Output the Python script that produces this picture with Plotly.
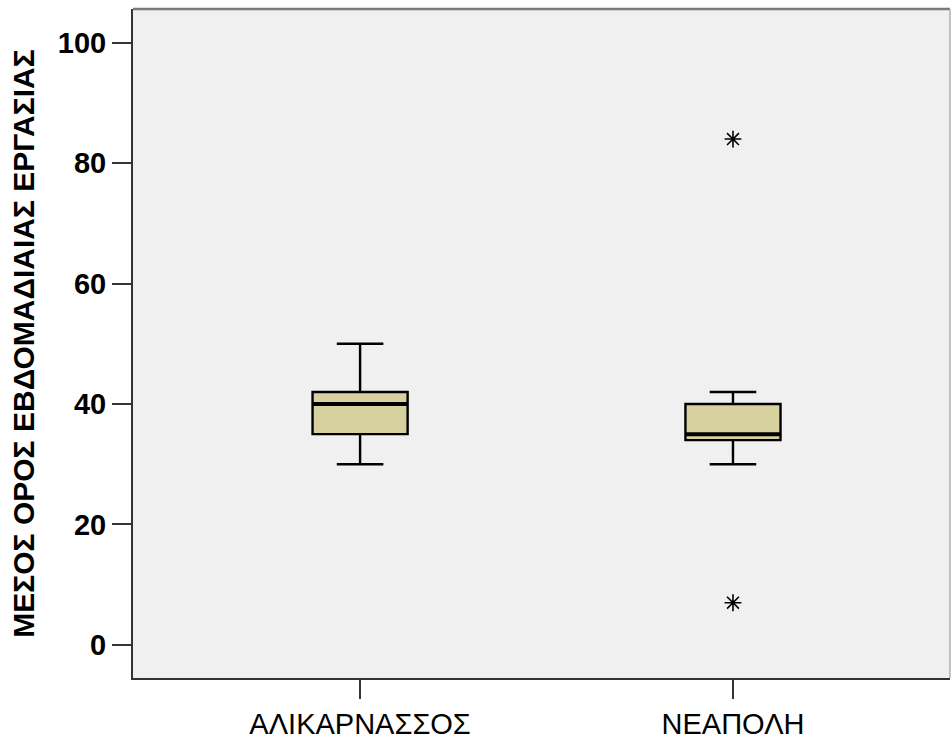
import plotly.graph_objects as go

categories = ["ΑΛΙΚΑΡΝΑΣΣΟΣ", "ΝΕΑΠΟΛΗ"]
lower_whisker = [30, 30]
q1_values = [35, 34]
median_values = [40, 35]
q3_values = [42, 40]
upper_whisker = [50, 42]
outlier_x = ["ΝΕΑΠΟΛΗ", "ΝΕΑΠΟΛΗ"]
outlier_y = [84, 7]
y_ticks = [0, 20, 40, 60, 80, 100]
y_title = "ΜΕΣΟΣ ΟΡΟΣ ΕΒΔΟΜΑΔΙΑΙΑΣ ΕΡΓΑΣΙΑΣ"

FONT = "Liberation Sans, Arial, sans-serif"

fig = go.Figure()
fig.add_trace(go.Box(
    x=categories,
    q1=q1_values, median=median_values, q3=q3_values,
    lowerfence=lower_whisker, upperfence=upper_whisker,
    fillcolor="#d6d19e",
    line=dict(color="black", width=2.4),
    whiskerwidth=0.49,
    width=0.255,
    boxpoints=False,
    hoverinfo="skip",
    showlegend=False,
))
# thicker median line (SPSS style)
fig.add_trace(go.Box(
    x=categories,
    q1=median_values, median=median_values, q3=median_values,
    lowerfence=median_values, upperfence=median_values,
    fillcolor="rgba(0,0,0,0)",
    line=dict(color="black", width=4),
    whiskerwidth=0.49,
    width=0.255,
    boxpoints=False,
    hoverinfo="skip",
    showlegend=False,
))
fig.add_trace(go.Scatter(
    x=outlier_x, y=outlier_y, mode="markers",
    marker=dict(symbol="asterisk-open", size=14, color="black",
                line=dict(color="black", width=1.6)),
    hoverinfo="skip", showlegend=False,
))

fig.update_layout(
    width=952, height=742,
    margin=dict(l=133, r=2, t=9, b=64),
    paper_bgcolor="white",
    plot_bgcolor="#f0f0f0",
    font=dict(family=FONT, color="black"),
    boxmode="overlay",
    xaxis=dict(
        type="category",
        range=[-0.609, 1.582],
        showgrid=False, zeroline=False,
        showline=True, linecolor="#333333", linewidth=2,
        ticks="outside", ticklen=19, tickwidth=2, tickcolor="#333333",
        tickfont=dict(size=29, family=FONT),
    ),
    yaxis=dict(
        range=[-5.5, 105.6],
        tickvals=y_ticks,
        showgrid=False, zeroline=False,
        showline=True, linecolor="#333333", linewidth=2,
        ticks="outside", ticklen=19, tickwidth=2, tickcolor="#333333",
        tickfont=dict(size=29, family=FONT, weight="bold"),
        title=dict(text=y_title, standoff=14,
                   font=dict(size=30, family=FONT, weight="bold")),
    ),
    shapes=[
        dict(type="line", xref="paper", yref="paper", x0=0, x1=1, y0=1, y1=1,
             line=dict(color="#7a7a7a", width=2.5)),
        dict(type="line", xref="paper", yref="paper", x0=1, x1=1, y0=0, y1=1,
             line=dict(color="#b0b0b0", width=1.5)),
    ],
)

fig.write_html("out.html",
               config={"displayModeBar": False},
               post_script="document.body.style.margin='0';document.body.style.overflow='hidden';")
